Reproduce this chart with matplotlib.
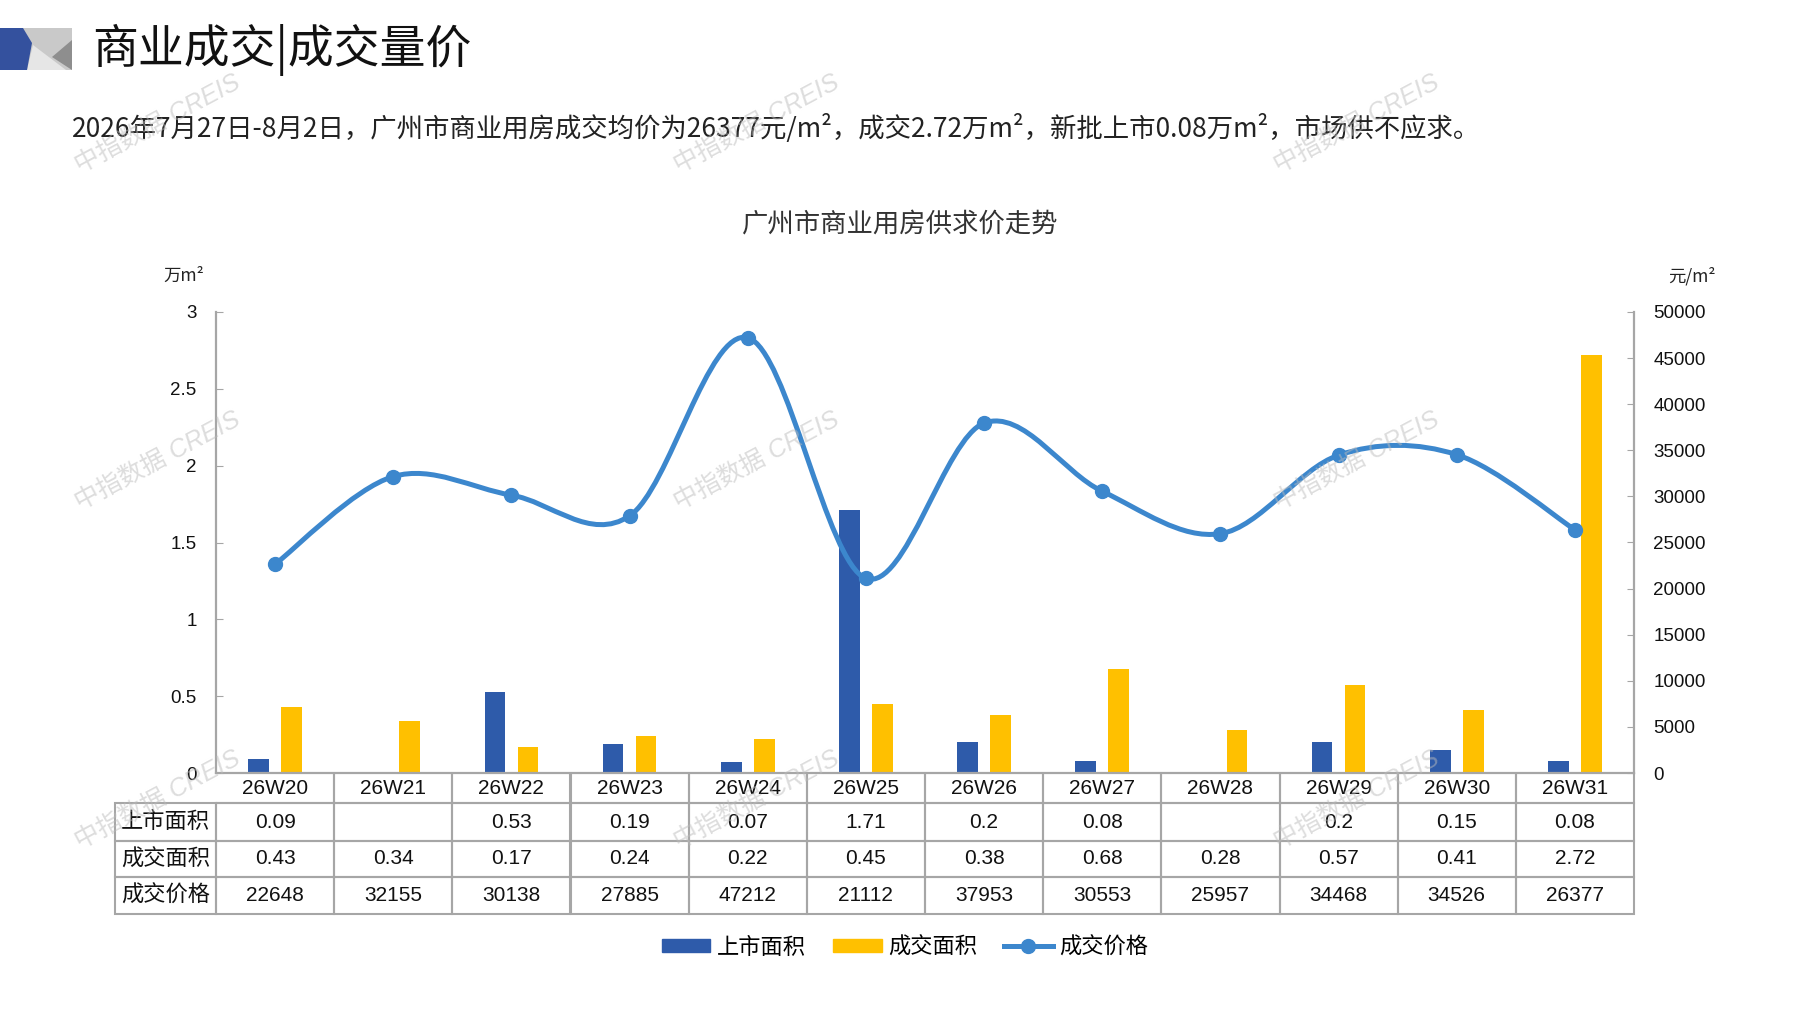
import numpy as np
import matplotlib
matplotlib.use('Agg')
import matplotlib.pyplot as plt
from matplotlib.path import Path
from matplotlib.patches import PathPatch, Polygon, Patch
from matplotlib.lines import Line2D

plt.rcParams['font.family'] = ['Liberation Sans', 'Noto Sans CJK SC', 'DejaVu Sans']

# data
weeks = ['26W20', '26W21', '26W22', '26W23', '26W24', '26W25',
         '26W26', '26W27', '26W28', '26W29', '26W30', '26W31']
supply = [0.09, None, 0.53, 0.19, 0.07, 1.71, 0.2, 0.08, None, 0.2, 0.15, 0.08]
deal = [0.43, 0.34, 0.17, 0.24, 0.22, 0.45, 0.38, 0.68, 0.28, 0.57, 0.41, 2.72]
price = [22648, 32155, 30138, 27885, 47212, 21112, 37953, 30553, 25957, 34468, 34526, 26377]
row_names = ['上市面积', '成交面积', '成交价格']

c_blue = '#2E5BAA'
c_yellow = '#FFC000'
c_line = '#3C87CD'
c_grid = '#A6A6A6'
cjk = ['Noto Sans CJK SC', 'DejaVu Sans']
num = ['Liberation Sans Narrow', 'Liberation Sans', 'Noto Sans CJK SC']

W, H = 1797, 1010
fig = plt.figure(figsize=(W / 100, H / 100), dpi=100)

# header icon
def px(x, y):
    return (x / W, 1 - y / H)

fig.patches.append(Polygon([px(20, 28), px(72, 28), px(72, 70), px(20, 70)],
                           closed=True, transform=fig.transFigure, fc='#C9C9C9', ec='none'))
fig.patches.append(Polygon([px(27, 70), px(33, 45), px(66, 70)],
                           closed=True, transform=fig.transFigure, fc='#E6E6E6', ec='none'))
fig.patches.append(Polygon([px(72, 40), px(72, 70), px(52, 57)],
                           closed=True, transform=fig.transFigure, fc='#8E8E8E', ec='none'))
fig.patches.append(Polygon([px(0, 28), px(23, 28), px(32, 43), px(27, 70), px(0, 70)],
                           closed=True, transform=fig.transFigure, fc='#34519E', ec='none'))

fig.text(92 / W, 1 - 50 / H, '商业成交|成交量价', family=cjk, fontsize=33,
         va='center', ha='left', color='#111111')
fig.text(72 / W, 1 - 129 / H,
         '2026年7月27日-8月2日，广州市商业用房成交均价为26377元/m²，成交2.72万m²，新批上市0.08万m²，市场供不应求。',
         family=['Liberation Sans Narrow', 'Noto Sans CJK SC'], fontsize=19, va='center', ha='left', color='#222222')
fig.text(900 / W, 1 - 225 / H, '广州市商业用房供求价走势', family=cjk, fontsize=19,
         va='center', ha='center', color='#333333')
fig.text(184 / W, 1 - 276 / H, '万m²', family=cjk, fontsize=12.5, va='center', ha='center', color='#222222')
fig.text(1692 / W, 1 - 276 / H, '元/m²', family=cjk, fontsize=12.5, va='center', ha='center', color='#222222')

ax = fig.add_axes([216 / W, 1 - 773 / H, (1634 - 216) / W, (773 - 312) / H])
x = np.arange(len(weeks))
bw = 0.175
sup_vals = [np.nan if v is None else v for v in supply]
ax.bar(x - 0.14, sup_vals, bw, color=c_blue, zorder=2)
ax.bar(x + 0.14, deal, bw, color=c_yellow, zorder=2)
ax.set_xlim(-0.5, len(weeks) - 0.5)
ax.set_ylim(0, 3)
ax.set_yticks([0, 0.5, 1, 1.5, 2, 2.5, 3])
ax.set_yticklabels(['0', '0.5', '1', '1.5', '2', '2.5', '3'])
ax.set_xticks([])
for s in ['top', 'right']:
    ax.spines[s].set_visible(False)
for s in ['left', 'bottom']:
    ax.spines[s].set_color(c_grid)
    ax.spines[s].set_linewidth(1.6)
ax.tick_params(axis='y', direction='in', length=5, color=c_grid, labelsize=13.5,
               labelcolor='#111111', pad=14)

ax2 = ax.twinx()
ax2.set_ylim(0, 50000)
ax2.set_yticks(range(0, 50001, 5000))
for s in ['top', 'left', 'bottom']:
    ax2.spines[s].set_visible(False)
ax2.spines['right'].set_color(c_grid)
ax2.spines['right'].set_linewidth(1.6)
ax2.tick_params(axis='y', direction='in', length=5, color=c_grid, labelsize=13.5,
                labelcolor='#111111', pad=14)

# smoothed price line (catmull-rom as bezier)
pts = np.column_stack([x, price]).astype(float)
verts = [tuple(pts[0])]
codes = [Path.MOVETO]
n = len(pts)
for i in range(n - 1):
    p0 = pts[max(i - 1, 0)]
    p1 = pts[i]
    p2 = pts[i + 1]
    p3 = pts[min(i + 2, n - 1)]
    c1 = p1 + (p2 - p0) / 6
    c2 = p2 - (p3 - p1) / 6
    verts += [tuple(c1), tuple(c2), tuple(p2)]
    codes += [Path.CURVE4] * 3
ax2.add_patch(PathPatch(Path(verts, codes), fc='none', ec=c_line, lw=3.6,
                        capstyle='round', joinstyle='round', zorder=3))
ax2.plot(x, price, 'o', color=c_line, ms=10, zorder=4)

# data table under the axis
cell_text = [[row_names[0]] + ['' if v is None else f'{v:g}' for v in supply],
             [row_names[1]] + [f'{v:g}' for v in deal],
             [row_names[2]] + [str(v) for v in price]]
lab_w = (216 - 115) / (1634 - 216)
tab_h = (914 - 773) / (773 - 312)
tbl = ax.table(cellText=cell_text, colLabels=[''] + weeks, cellLoc='center',
               colWidths=[lab_w] + [1 / len(weeks)] * len(weeks),
               bbox=[-lab_w, -tab_h, 1 + lab_w, tab_h])
tbl.auto_set_font_size(False)
row_h = {0: 30, 1: 38, 2: 36, 3: 37}
for (r, c), cell in tbl.get_celld().items():
    cell.set_edgecolor(c_grid)
    cell.set_linewidth(1.5)
    cell.set_height(row_h[r])
    cell.set_facecolor('none')
    t = cell.get_text()
    if c == 0:
        t.set_fontfamily(cjk)
        t.set_fontsize(16)
    else:
        t.set_fontfamily(num)
        t.set_fontsize(15)
    t.set_color('#111111')
    if r == 0:
        cell.visible_edges = 'BLR' if c > 0 else ''
        if c == 1:
            cell.visible_edges = 'BR'

handles = [Patch(color=c_blue), Patch(color=c_yellow),
           Line2D([], [], color=c_line, lw=3.6, marker='o', ms=10)]
fig.legend(handles, ['上市面积', '成交面积', '成交价格'], loc='center', ncol=3,
           bbox_to_anchor=(905 / W, 1 - 947 / H), frameon=False,
           prop={'family': cjk, 'size': 16}, handlelength=2.2, handleheight=0.55,
           handletextpad=0.3, columnspacing=1.2)

# watermarks
for wx in [158, 757, 1357]:
    for wy in [124, 461, 800]:
        fig.text(wx / W, 1 - wy / H, '中指数据 CREIS', family=['Liberation Sans', 'Noto Sans CJK SC'],
                 fontsize=18, style='italic', rotation=28, color='#BBBBBB', alpha=0.5,
                 ha='center', va='center', zorder=10)

fig.savefig('out.png', dpi=100)
